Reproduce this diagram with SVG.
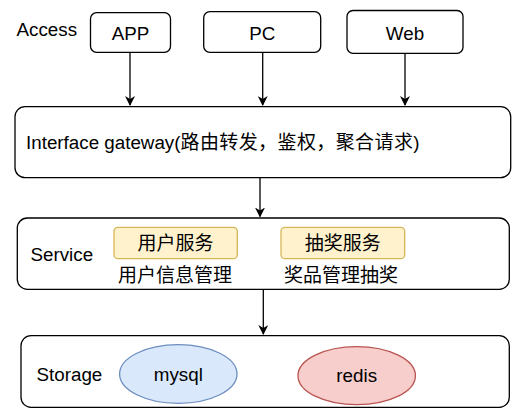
<svg xmlns="http://www.w3.org/2000/svg" width="525" height="417" viewBox="0 0 525 417">
<style>
.box{fill:#fff;stroke:#000;stroke-width:1.3}
.svc{fill:#fff2cc;stroke:#d6b656;stroke-width:1.3}
.t{font-family:"Liberation Sans","Noto Sans CJK SC",Arial,sans-serif;font-size:18.8px;fill:#000}
.c{font-family:"Noto Sans CJK SC","Liberation Sans",sans-serif;font-size:19px;fill:#000}
.m{text-anchor:middle}
.ln{fill:none;stroke:#000;stroke-width:1.3}
</style>
<defs>
<marker id="ah" viewBox="0 0 10 10" refX="9" refY="5" markerWidth="10" markerHeight="10" markerUnits="userSpaceOnUse" orient="auto">
<path d="M0,0 L10,5 L0,10 L3,5 Z" fill="#000"/>
</marker>
</defs>
<rect width="525" height="417" fill="#fff"/>
<g id="connectors">
<line class="ln" x1="130" y1="52.5" x2="130" y2="105" marker-end="url(#ah)"/>
<line class="ln" x1="262.7" y1="52.5" x2="262.7" y2="105" marker-end="url(#ah)"/>
<line class="ln" x1="405" y1="53.5" x2="405" y2="105" marker-end="url(#ah)"/>
<line class="ln" x1="260" y1="178" x2="260" y2="216.5" marker-end="url(#ah)"/>
<line class="ln" x1="263.3" y1="289.5" x2="263.3" y2="334" marker-end="url(#ah)"/>
</g>
<g id="access-label"><text class="t" x="16.5" y="35.5">Access</text></g>
<g id="app"><rect class="box" x="90.5" y="12.7" width="80" height="39.6" rx="6"/><text class="t m" x="130.5" y="40">APP</text></g>
<g id="pc"><rect class="box" x="203.7" y="11.7" width="117" height="40.6" rx="6"/><text class="t m" x="262.2" y="40">PC</text></g>
<g id="web"><rect class="box" x="347" y="10.5" width="116" height="42.8" rx="6"/><text class="t m" x="405" y="40">Web</text></g>
<g id="gateway"><rect class="box" x="15" y="106.7" width="495.7" height="71" rx="10"/><text class="t" x="26" y="149">Interface gateway(<tspan class="c" letter-spacing="0.4">路由转发，鉴权，聚合请求</tspan>)</text></g>
<g id="service"><rect class="box" x="17.3" y="218" width="492" height="71.3" rx="10"/><text class="t" x="30.5" y="260.5">Service</text></g>
<g id="user-service"><rect class="svc" x="114" y="227.3" width="123.3" height="31.4" rx="4"/><text class="c m" x="175.6" y="250">用户服务</text><text class="c m" x="175" y="281.5">用户信息管理</text></g>
<g id="lottery-service"><rect class="svc" x="281" y="227.3" width="123.7" height="31.4" rx="4"/><text class="c m" x="342.8" y="250">抽奖服务</text><text class="c m" x="341" y="281.5">奖品管理抽奖</text></g>
<g id="storage"><rect class="box" x="21" y="335.7" width="488.3" height="71.6" rx="10"/><text class="t" x="36.5" y="381">Storage</text></g>
<g id="mysql"><ellipse cx="178.3" cy="374" rx="58.7" ry="29.3" fill="#dae8fc" stroke="#6c8ebf" stroke-width="1.3"/><text class="t m" x="178.3" y="381">mysql</text></g>
<g id="redis"><ellipse cx="356.7" cy="375.7" rx="58.7" ry="29" fill="#f8cecc" stroke="#b85450" stroke-width="1.3"/><text class="t m" x="356.7" y="382">redis</text></g>
</svg>
